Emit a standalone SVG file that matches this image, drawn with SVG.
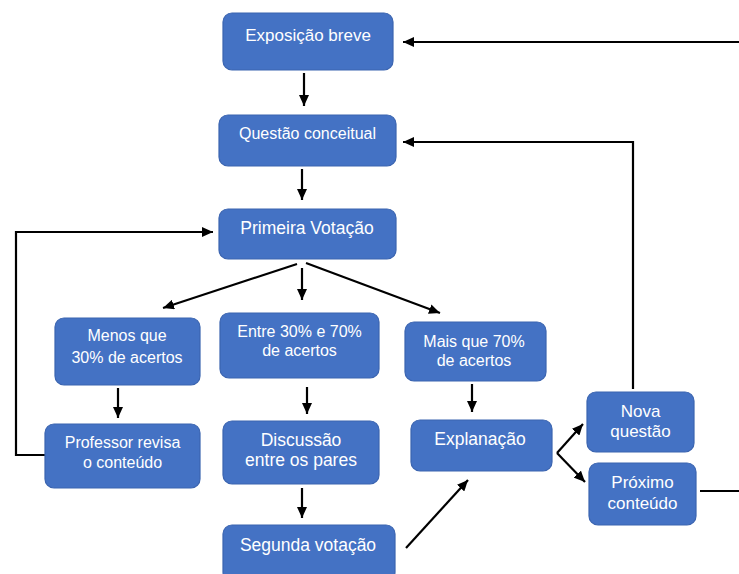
<svg xmlns="http://www.w3.org/2000/svg" width="739" height="574" viewBox="0 0 739 574">
<style>
.box{fill:#4472C4;stroke:#3A64B0;stroke-width:1.2}
.t{font-family:"Liberation Sans",Arial,sans-serif;fill:#fff;text-anchor:middle;font-size:16px}
.c{fill:none;stroke:#000;stroke-width:2.2}
.a{marker-end:url(#ah)}
</style>
<defs>
<marker id="ah" markerUnits="userSpaceOnUse" markerWidth="12" markerHeight="10" refX="11" refY="5" orient="auto">
<path d="M0,0 L11,5 L0,10 Z" fill="#000"/>
</marker>
</defs>
<rect width="739" height="574" fill="#fff"/>
<g id="connectors">
<line class="c a" x1="739" y1="42" x2="403" y2="42"/>
<line class="c a" x1="304" y1="73" x2="304" y2="106"/>
<polyline class="c a" points="633,389 633,142 403,142"/>
<line class="c a" x1="302" y1="169" x2="302" y2="200"/>
<polyline class="c a" points="45,455 16,455 16,232 213,232"/>
<line class="c a" x1="297" y1="264" x2="163" y2="308"/>
<line class="c a" x1="302" y1="268" x2="302" y2="300"/>
<line class="c a" x1="306" y1="263" x2="440" y2="313"/>
<line class="c a" x1="118" y1="388" x2="118" y2="418"/>
<line class="c a" x1="307" y1="387" x2="307" y2="414"/>
<line class="c a" x1="472" y1="384" x2="472" y2="412"/>
<line class="c a" x1="302" y1="488" x2="302" y2="518"/>
<line class="c a" x1="406" y1="548" x2="468" y2="480"/>
<line class="c a" x1="557" y1="453" x2="583" y2="424"/>
<line class="c a" x1="557" y1="453" x2="585" y2="482"/>
<line class="c" x1="700" y1="491" x2="739" y2="491"/>
</g>
<g id="exposicao"><rect class="box" x="223" y="13" width="170" height="57" rx="9"/><text class="t" x="308" y="41" style="font-size:17px">Exposição breve</text></g>
<g id="questao"><rect class="box" x="219" y="115" width="177" height="51" rx="9"/><text class="t" x="307.5" y="139">Questão conceitual</text></g>
<g id="primeira"><rect class="box" x="219" y="209" width="177" height="50" rx="9"/><text class="t" x="307" y="234" style="font-size:17.5px">Primeira Votação</text></g>
<g id="menos"><rect class="box" x="55" y="318" width="145" height="67" rx="9"/><text class="t" x="127" y="341">Menos que</text><text class="t" x="127" y="363">30% de acertos</text></g>
<g id="entre"><rect class="box" x="220" y="313" width="159" height="65" rx="9"/><text class="t" x="299.5" y="337">Entre 30% e 70%</text><text class="t" x="299.5" y="356">de acertos</text></g>
<g id="mais"><rect class="box" x="405" y="322" width="141" height="59" rx="9"/><text class="t" x="474" y="347">Mais que 70%</text><text class="t" x="474" y="366">de acertos</text></g>
<g id="professor"><rect class="box" x="45" y="424" width="155" height="64" rx="9"/><text class="t" x="122.5" y="448">Professor revisa</text><text class="t" x="122.5" y="468">o conteúdo</text></g>
<g id="discussao"><rect class="box" x="223" y="421" width="156" height="63" rx="9"/><text class="t" x="301" y="446" style="font-size:17.5px">Discussão</text><text class="t" x="301" y="466" style="font-size:17.5px">entre os pares</text></g>
<g id="segunda"><rect class="box" x="223" y="525" width="172" height="56" rx="9"/><text class="t" x="308" y="551" style="font-size:17.5px">Segunda votação</text></g>
<g id="explanacao"><rect class="box" x="411" y="420" width="141" height="51" rx="9"/><text class="t" x="480" y="445" style="font-size:17.5px">Explanação</text></g>
<g id="nova"><rect class="box" x="587" y="392" width="107" height="60" rx="9"/><text class="t" x="640.5" y="417" style="font-size:17px">Nova</text><text class="t" x="640.5" y="437" style="font-size:17px">questão</text></g>
<g id="proximo"><rect class="box" x="589" y="463" width="107" height="62" rx="9"/><text class="t" x="642.5" y="488" style="font-size:17px">Próximo</text><text class="t" x="642.5" y="509" style="font-size:17px">conteúdo</text></g>
</svg>
